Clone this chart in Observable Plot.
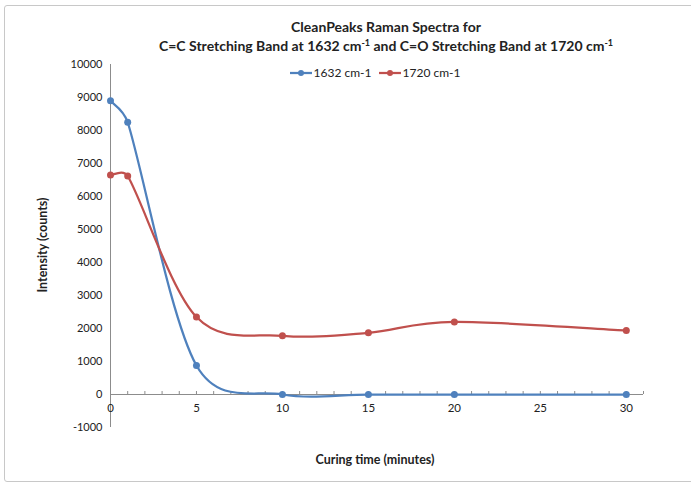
<!DOCTYPE html>
<html><head><meta charset="utf-8">
<script src="https://cdn.jsdelivr.net/npm/d3@7"></script>
<script src="https://cdn.jsdelivr.net/npm/@observablehq/plot@0.6"></script>
<style>
body{margin:0;background:#fff;}
#wrap{position:relative;width:691px;height:483px;overflow:hidden;font-family:Lato,"Open Sans",sans-serif;color:#222;}
#border{position:absolute;left:4px;top:5px;width:720px;height:475px;border:1.5px solid #c8c8c8;border-radius:3px;}
#title{position:absolute;left:0;top:17px;width:772px;text-align:center;font-weight:bold;font-size:14px;line-height:19px;}
#title sup{font-size:9px;line-height:0;vertical-align:5px;}
#legend{position:absolute;left:0;top:65px;width:750px;display:flex;justify-content:center;gap:7px;font-size:12px;}
#legend .it{display:flex;align-items:center;gap:2px;}
#xt{position:absolute;left:0;top:452px;width:750px;text-align:center;font-weight:bold;font-size:12.5px;}
#yt{position:absolute;left:42px;top:245px;transform:translate(-50%,-50%) rotate(-90deg);white-space:nowrap;font-weight:bold;font-size:12.5px;}
#chart{position:absolute;left:0;top:0;}
</style></head>
<body>
<div id="wrap">
  <div id="border"></div>
  <div id="chart"></div>
  <div id="title">CleanPeaks Raman Spectra for<br>C=C Stretching Band at 1632 cm<sup>-1</sup> and C=O Stretching Band at 1720 cm<sup>-1</sup></div>
  <div id="legend"></div>
  <div id="xt">Curing time (minutes)</div>
  <div id="yt">Intensity (counts)</div>
</div>
<script>
const time = [0, 1, 5, 10, 15, 20, 30];
const band1632 = [8900, 8250, 880, 0, 0, 0, 0];
const band1720 = [6650, 6620, 2350, 1780, 1870, 2200, 1940];
const seriesNames = ["1632 cm-1", "1720 cm-1"];
const seriesColors = ["#4F81BD", "#C0504D"];
const xTicks = [0, 5, 10, 15, 20, 25, 30];
const xMinor = d3.range(0, 32, 1);
const yTicks = [-1000, 0, 1000, 2000, 3000, 4000, 5000, 6000, 7000, 8000, 9000, 10000];

const data = [];
time.forEach((t, i) => {
  data.push({t, v: band1632[i], s: seriesNames[0]});
  data.push({t, v: band1720[i], s: seriesNames[1]});
});

// Spreadsheet-style smoothed line: Bezier segments with 1/6 tangents,
// control offsets capped at half the segment length.
function SmoothCurve(context) { this._context = context; }
SmoothCurve.prototype = {
  areaStart() { this._line = 0; },
  areaEnd() { this._line = NaN; },
  lineStart() { this._pts = []; },
  point(x, y) { this._pts.push([+x, +y]); },
  lineEnd() {
    const p = this._pts, c = this._context, n = p.length;
    if (!n) return;
    c.moveTo(p[0][0], p[0][1]);
    const dist = (a, b) => Math.hypot(a[0] - b[0], a[1] - b[1]);
    for (let i = 0; i < n - 1; i++) {
      const P0 = p[i - 1] || p[i], P1 = p[i], P2 = p[i + 1], P3 = p[i + 2] || p[i + 1];
      const d12 = dist(P1, P2), d02 = dist(P0, P2), d13 = dist(P1, P3);
      let f1 = 1 / 6, f2 = 1 / 6;
      if (d02 / 6 > d12 / 2 && d02 > 0) f1 = d12 / (2 * d02);
      if (d13 / 6 > d12 / 2 && d13 > 0) f2 = d12 / (2 * d13);
      c.bezierCurveTo(
        P1[0] + f1 * (P2[0] - P0[0]), P1[1] + f1 * (P2[1] - P0[1]),
        P2[0] - f2 * (P3[0] - P1[0]), P2[1] - f2 * (P3[1] - P1[1]),
        P2[0], P2[1]
      );
    }
  }
};
const curveSmooth = (context) => new SmoothCurve(context);

const tickLen = 90; // small minor tick above axis, in data units (~3px)

const plot = Plot.plot({
  width: 691, height: 483,
  marginLeft: 110, marginRight: 48, marginTop: 64, marginBottom: 56,
  style: {fontFamily: "Lato, 'Open Sans', sans-serif", fontSize: "11px", color: "#222", background: "transparent"},
  x: {domain: [0, 31], axis: null},
  y: {domain: [-1000, 10000], axis: null},
  color: {domain: seriesNames, range: seriesColors},
  marks: [
    Plot.ruleX([0], {stroke: "#8c8c8c", strokeWidth: 1}),
    Plot.ruleY([0], {stroke: "#8c8c8c", strokeWidth: 1}),
    Plot.ruleX(xMinor, {x: d => d, y1: 0, y2: tickLen, stroke: "#8c8c8c", strokeWidth: 1}),
    Plot.text(xTicks, {x: d => d, y: 0, dy: 14, text: d => String(d), fill: "#222", fontSize: 11.5}),
    Plot.text(yTicks, {x: 0, y: d => d, dx: -8, text: d => String(d), textAnchor: "end", fill: "#222", fontSize: 11}),
    Plot.line(data, {x: "t", y: "v", z: "s", stroke: "s", strokeWidth: 2.25, curve: curveSmooth}),
    Plot.dot(data, {x: "t", y: "v", fill: "s", r: 3.5})
  ]
});
document.getElementById("chart").appendChild(plot);

const leg = document.getElementById("legend");
seriesNames.forEach((n, i) => {
  const it = document.createElement("div");
  it.className = "it";
  it.innerHTML = `<svg width="22" height="10"><line x1="0" x2="22" y1="5" y2="5" stroke="${seriesColors[i]}" stroke-width="2.25"/><circle cx="11" cy="5" r="3" fill="${seriesColors[i]}"/></svg><span>${n}</span>`;
  leg.appendChild(it);
});
</script>
</body></html>
